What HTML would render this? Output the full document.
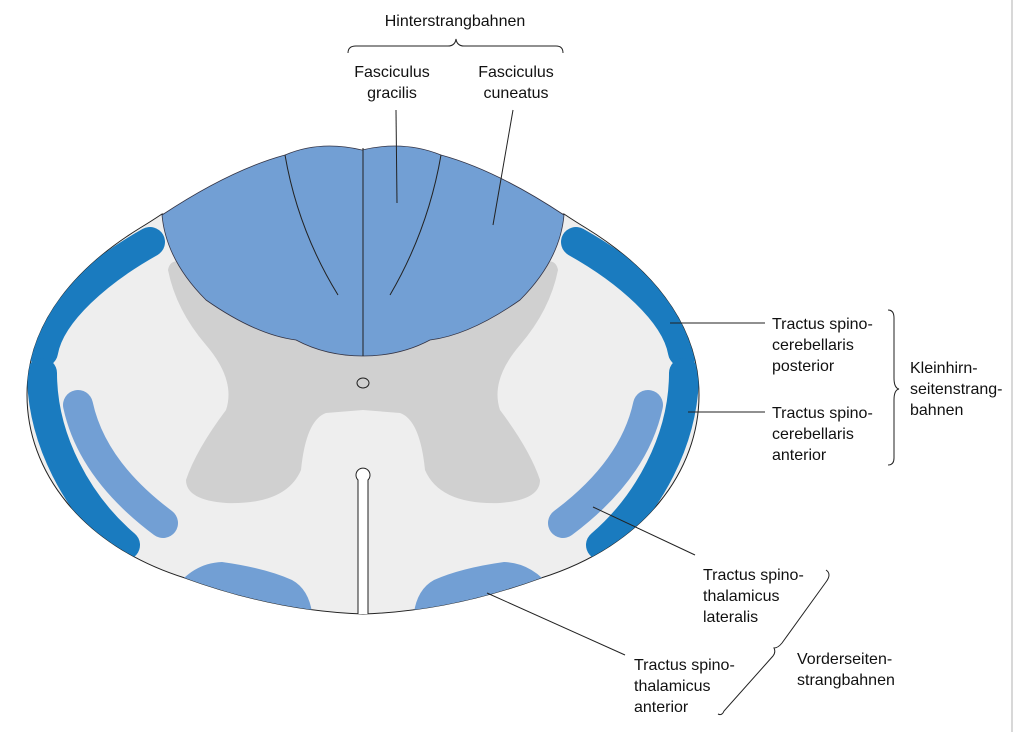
<!DOCTYPE html>
<html><head><meta charset="utf-8"><style>
html,body{margin:0;padding:0;background:#fff;}
svg{display:block;}
text{font-family:"Liberation Sans",sans-serif;font-size:16px;fill:#111;}
</style></head><body>
<svg width="1024" height="732" viewBox="0 0 1024 732">
<defs>
<clipPath id="cord"><path d="M162,214 Q150,222 140,228 C80,265 27,320 27,395 C27,470 80,545 185,578 C240,598 300,612 363,614 C426,612 486,598 541,578 C646,545 699,470 699,395 C699,320 646,265 586,228 Q576,222 564,214 Z"/></clipPath>
</defs>
<line x1="1012" y1="0" x2="1012" y2="732" stroke="#ccc" stroke-width="1.5"/>
<g>
<path d="M162,214 Q150,222 140,228 C80,265 27,320 27,395 C27,470 80,545 185,578 C240,598 300,612 363,614 C426,612 486,598 541,578 C646,545 699,470 699,395 C699,320 646,265 586,228 Q576,222 564,214 Z" fill="#eeeeee" stroke="#222" stroke-width="1"/>
<g clip-path="url(#cord)">
<path d="M150,242 C100,270 50,312 43,352" fill="none" stroke="#1a7bbf" stroke-width="30" stroke-linecap="round"/>
<path d="M576,242 C626,270 676,312 683,352" fill="none" stroke="#1a7bbf" stroke-width="30" stroke-linecap="round"/>
<path d="M42,373 C42,440 78,505 125,545" fill="none" stroke="#1a7bbf" stroke-width="30" stroke-linecap="round"/>
<path d="M684,373 C684,440 648,505 601,545" fill="none" stroke="#1a7bbf" stroke-width="30" stroke-linecap="round"/>
<path d="M172,592 Q192,563 222,562 Q265,568 292,580 Q314,592 313,630 L170,630 Z" fill="#729fd4"/>
<path d="M554,592 Q534,563 504,562 Q461,568 434,580 Q412,592 413,630 L556,630 Z" fill="#729fd4"/>
</g>
<path d="M78,405 Q92,470 163,523" fill="none" stroke="#729fd4" stroke-width="30" stroke-linecap="round"/>
<path d="M648,405 Q634,470 563,523" fill="none" stroke="#729fd4" stroke-width="30" stroke-linecap="round"/>
<path d="M168,270 Q170,258 185,262 Q215,275 240,300 Q300,345 363,350 Q426,345 486,300 Q511,275 541,262 Q556,258 558,270 Q550,310 520,345 Q490,380 500,410 Q530,450 540,480 Q540,500 500,503 Q440,505 425,470 Q420,420 400,413 L363,410 L326,413 Q306,420 301,470 Q286,505 226,503 Q186,500 186,480 Q196,450 226,410 Q236,380 206,345 Q176,310 168,270 Z" fill="#d0d0d0"/>
<path d="M162,215 Q230,170 285,155 Q320,140 362,150 Q404,140 441,155 Q496,170 564,215 Q560,260 520,300 Q470,335 430,340 Q400,356 363,356 Q326,356 296,340 Q256,335 206,300 Q166,260 162,215 Z" fill="#729fd4" stroke="#334" stroke-width="0.8"/>
<line x1="363" y1="148" x2="363" y2="356" stroke="#222" stroke-width="1"/>
<path d="M285,155 Q298,230 338,295" fill="none" stroke="#222" stroke-width="1"/>
<path d="M441,155 Q428,230 390,295" fill="none" stroke="#222" stroke-width="1"/>
<ellipse cx="363" cy="383" rx="6" ry="5" fill="none" stroke="#222" stroke-width="1"/>
<path d="M358,614 L358,480 A7,7 0 1 1 368,480 L368,614" fill="#fff" stroke="#222" stroke-width="1"/>
</g>
<g stroke="#222" stroke-width="1" fill="none">
<path d="M348,53 Q348,46 356,46 L448,46 Q455,46 456,39 Q457,46 464,46 L556,46 Q563,46 563,53"/>
<line x1="396" y1="110" x2="397" y2="203"/>
<line x1="513" y1="110" x2="493" y2="225"/>
<line x1="670" y1="323" x2="765" y2="323"/>
<line x1="688" y1="412" x2="765" y2="412"/>
<line x1="593" y1="507" x2="695" y2="555"/>
<line x1="487" y1="593" x2="625" y2="655"/>
<path d="M888,310 Q894,310 894,318 L894,378 Q894,388 899,389 Q894,390 894,400 L894,458 Q894,465 888,465"/>
<path d="M826,570 Q832,574 826,582 L782,643 Q778,648 774,648 Q776,652 773,656 L724,711 Q722,716 718,714"/>
</g>
<g>
<text x="455" y="26" text-anchor="middle">Hinterstrangbahnen</text>
<text x="392" y="77" text-anchor="middle"><tspan x="392">Fasciculus</tspan><tspan x="392" dy="21">gracilis</tspan></text>
<text x="516" y="77" text-anchor="middle"><tspan x="516">Fasciculus</tspan><tspan x="516" dy="21">cuneatus</tspan></text>
<text x="772" y="329"><tspan x="772">Tractus spino-</tspan><tspan x="772" dy="21">cerebellaris</tspan><tspan x="772" dy="21">posterior</tspan></text>
<text x="772" y="418"><tspan x="772">Tractus spino-</tspan><tspan x="772" dy="21">cerebellaris</tspan><tspan x="772" dy="21">anterior</tspan></text>
<text x="910" y="373"><tspan x="910">Kleinhirn-</tspan><tspan x="910" dy="21">seitenstrang-</tspan><tspan x="910" dy="21">bahnen</tspan></text>
<text x="703" y="580"><tspan x="703">Tractus spino-</tspan><tspan x="703" dy="21">thalamicus</tspan><tspan x="703" dy="21">lateralis</tspan></text>
<text x="634" y="670"><tspan x="634">Tractus spino-</tspan><tspan x="634" dy="21">thalamicus</tspan><tspan x="634" dy="21">anterior</tspan></text>
<text x="797" y="664"><tspan x="797">Vorderseiten-</tspan><tspan x="797" dy="21">strangbahnen</tspan></text>
</g>
</svg>
</body></html>
